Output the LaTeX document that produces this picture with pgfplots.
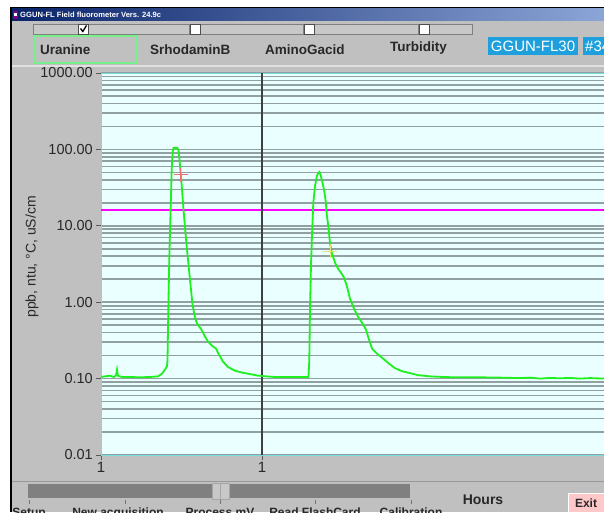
\documentclass[border=0pt]{standalone}
\usepackage{fontspec}
\setmainfont{Liberation Sans}
\usepackage{pgfplots}
\pgfplotsset{compat=1.18}
\definecolor{panel}{RGB}{192,192,192}
\definecolor{tbdark}{RGB}{10,36,106}
\definecolor{tblight}{RGB}{140,165,215}
\definecolor{stripc}{RGB}{200,200,200}
\definecolor{darkgr}{RGB}{128,128,128}
\definecolor{plotbg}{RGB}{234,255,255}
\definecolor{gridc}{RGB}{145,160,160}
\definecolor{framec}{RGB}{120,220,220}
\definecolor{curvec}{RGB}{30,240,30}
\definecolor{magc}{RGB}{255,0,255}
\definecolor{labc}{RGB}{40,40,40}
\definecolor{tagblue}{RGB}{30,160,220}
\definecolor{uragreen}{RGB}{120,240,140}
\definecolor{exitc}{RGB}{255,200,200}
\definecolor{crossred}{RGB}{240,110,110}
\definecolor{crossyel}{RGB}{225,225,120}
\newcommand{\fs}[1]{\fontsize{#1}{#1}\selectfont}
\begin{document}
\begin{tikzpicture}[x=1pt,y=1pt]
\useasboundingbox (0,0) rectangle (604,512);
\clip (0,0) rectangle (604,512);
% window background
\fill[white] (0,0) rectangle (604,512);
\fill[panel] (12,0) rectangle (604,491);
\fill[black] (10,0) rectangle (12,504.5);
\fill[black] (10,503) rectangle (604,504.5);
\shade[left color=tbdark, right color=tblight] (12,491) rectangle (604,503);
\fill[blue!50!red] (13,493) rectangle (18,501);
\fill[white] (14,496) rectangle (17,499);
\node[anchor=west, text=white, inner sep=0pt, font=\bfseries\fs{7.6}] at (20,497) {GGUN-FL Field fluorometer Vers. 24.9c};
% checkbox strip
\foreach \a/\b in {33/189, 190/303, 304/418, 419/472}{
  \fill[stripc] (\a,478) rectangle (\b,488);
  \draw[darkgr, line width=0.6pt] (\a,478) rectangle (\b,488);
}
\foreach \a in {78,190,304,419}{
  \fill[white] (\a,478) rectangle (\a+10,488);
  \draw[black!70, line width=0.6pt] (\a,478) rectangle (\a+10,488);
}
\draw[black, line width=1.3pt] (80.5,483.5) -- (82.8,480.5) -- (86.5,486.5);
% channel tabs
\draw[uragreen, line width=1.3pt] (35,449) rectangle (137,476);
\node[anchor=west, text=labc, inner sep=0pt, font=\bfseries\fs{13.5}] at (40,462.5) {Uranine};
\node[anchor=west, text=labc, inner sep=0pt, font=\bfseries\fs{13.5}] at (150,462.5) {SrhodaminB};
\node[anchor=west, text=labc, inner sep=0pt, font=\bfseries\fs{13.5}] at (265,462) {AminoGacid};
\node[anchor=west, text=labc, inner sep=0pt, font=\bfseries\fs{13.5}] at (390,464) {Turbidity};
\fill[tagblue] (488,457) rectangle (578,475);
\node[text=white, inner sep=0pt, font=\fs{15}] at (533,466) {GGUN-FL30};
\fill[tagblue] (583,457) rectangle (610,475);
\node[anchor=west, text=white, inner sep=0pt, font=\fs{15}] at (585,466) {\#34};
\draw[black!12, line width=1.5pt] (12,446) -- (604,446);
% lower panel
\draw[black!40, line width=1pt] (12,31) -- (604,31);
\fill[darkgr] (28,14) rectangle (410,28);
\fill[stripc] (212,13) rectangle (229,29);
\draw[black!35, line width=0.6pt] (212,13) rectangle (229,29);
\draw[black!35, line width=0.6pt] (220.5,13) -- (220.5,29);
\foreach \a in {29,125,220,315,411}{ \draw[black!55, line width=0.6pt] (\a,8) -- (\a,12); }
\node[anchor=base, text=labc, font=\bfseries\fs{12}] at (29,-4.5) {Setup};
\node[anchor=base, text=labc, font=\bfseries\fs{12}] at (118,-4.5) {New acquisition};
\node[anchor=base, text=labc, font=\bfseries\fs{12}] at (220,-4.5) {Process mV};
\node[anchor=base, text=labc, font=\bfseries\fs{12}] at (315,-4.5) {Read FlashCard};
\node[anchor=base, text=labc, font=\bfseries\fs{12}] at (411,-4.5) {Calibration};
\node[text=labc, inner sep=0pt, font=\bfseries\fs{14}] at (483,12) {Hours};
\fill[exitc] (568,0) rectangle (606,19);
\draw[white, line width=0.8pt] (568.5,0) -- (568.5,18.5) -- (606,18.5);
\node[text=labc, inner sep=0pt, font=\bfseries\fs{12}] at (586,9) {Exit};
% y label
\node[rotate=90, text=labc, inner sep=0pt, font=\fs{14}] at (32,255) {ppb, ntu, °C, uS/cm};
% chart
\begin{axis}[
  at={(101pt,57pt)}, anchor=south west, scale only axis,
  width=503pt, height=382pt,
  xmin=0, xmax=503, ymode=log, ymin=0.01, ymax=1000,
  axis background/.style={fill=plotbg},
  axis line style={draw=framec, line width=1pt},
  ytick={0.01,0.1,1,10,100,1000},
  yticklabels={0.01,0.10,1.00,10.00,100.00,1000.00},
  minor ytick={0.02,0.03,0.04,0.05,0.06,0.07,0.08,0.09,0.2,0.3,0.4,0.5,0.6,0.7,0.8,0.9,2,3,4,5,6,7,8,9,20,30,40,50,60,70,80,90,200,300,400,500,600,700,800,900},
  xtick={0,161}, xticklabels={1,1},
  ymajorgrids, yminorgrids,
  major grid style={draw=gridc, line width=1.7pt},
  minor grid style={draw=gridc, line width=1.7pt},
  tick align=outside, major tick length=5pt, minor tick length=0pt,
  xtick pos=left, ytick pos=left,
  tick style={draw=black!65, line width=0.8pt},
  yticklabel style={font=\fs{14.5}, text=labc, inner sep=1.5pt, xshift=-1.5pt},
  xticklabel style={font=\fs{15}, text=labc, inner sep=1pt, yshift=-1pt},
  clip=true,
]
\addplot[magc, line width=1.8pt] coordinates {(0,16.2) (503,16.2)};
\addplot[black!75, line width=1.2pt] coordinates {(161,0.01) (161,1000)};
\addplot[curvec, line width=1.8pt] coordinates {
(0,0.105) (4,0.107) (9,0.109) (13,0.105) (15,0.110) (16,0.131) (17,0.109) (21,0.105)
(29,0.105) (39,0.104) (49,0.105) (57,0.107) (61,0.116) (64,0.131) (66,0.145)
(66.5,0.177) (67.5,1.08) (68.5,4.88) (69.7,18.0) (70.7,54.4) (71.7,93.6) (72.5,104)
(76.5,104) (77.5,96.4) (78.5,73.5) (80.5,36.7) (82.5,16.3) (85.5,5.67) (88.5,2.30)
(91.5,0.93) (94,0.629) (96,0.525) (99,0.465) (101,0.425) (104,0.355) (107,0.305)
(111,0.270) (115,0.247) (118,0.206) (122,0.167) (127,0.1415) (134,0.127) (141,0.120)
(149,0.1146) (157,0.1094) (165,0.107) (174,0.105) (184,0.1047) (194,0.105) (204,0.1047)
(207.5,0.105) (208.3,0.177) (209,0.80) (210,3.10) (211,7.67) (212.3,19.9) (214,32.9)
(215.7,44.1) (217,48.2) (218.3,50.5) (219.5,46.8) (221,39.1) (223,29.8) (224.5,22.0)
(226,13.2) (227.5,9.47) (229,5.85) (231,4.33) (234,3.30) (237,2.75) (240,2.44)
(243,2.10) (246,1.60) (249,1.11) (253,0.824) (257,0.648) (261,0.541) (265,0.438)
(268,0.324) (271,0.247) (276,0.212) (282,0.183) (288,0.157) (294,0.137) (301,0.125)
(309,0.118) (317,0.111) (329,0.107) (344,0.1047) (359,0.104) (379,0.104) (399,0.103)
(419,0.1016) (429,0.103) (439,0.100) (449,0.102) (459,0.101) (469,0.102) (479,0.100)
(489,0.1016) (503,0.100)
};
\addplot[only marks, mark=+, mark size=7pt, mark options={draw=crossred, line width=1.2pt}] coordinates {(79.7,46.8)};
\addplot[only marks, mark=+, mark size=7pt, mark options={draw=crossyel, line width=1pt}] coordinates {(229,4.64)};
\end{axis}
\end{tikzpicture}
\end{document}
